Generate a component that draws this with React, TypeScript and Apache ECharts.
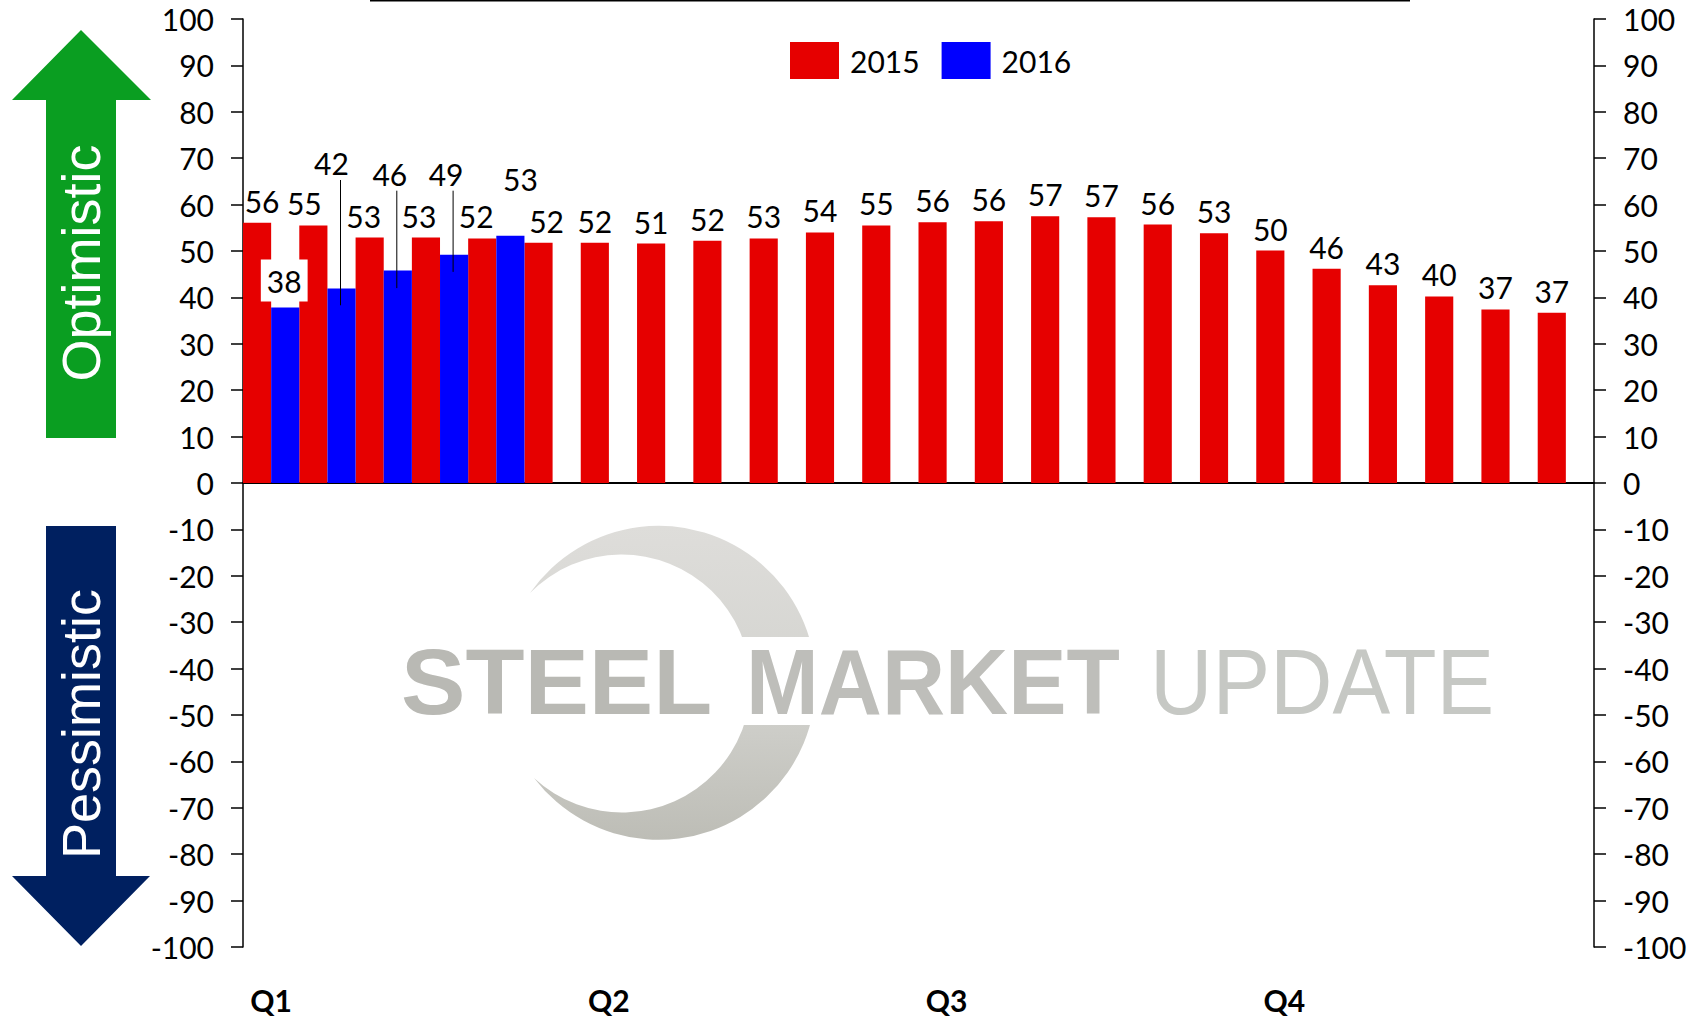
import React, { useEffect, useRef } from "react";
import * as echarts from "echarts";

const categories = ["Q1","","","","","","Q2","","","","","","Q3","","","","","","Q4","","","","",""];
const values2015 = [56.1,55.5,52.9,52.9,52.7,51.8,51.8,51.6,52.2,52.7,54,55.5,56.2,56.4,57.5,57.3,55.7,53.8,50.1,46.2,42.6,40.2,37.4,36.7];
const labels2015 = ["56","55","53","53","52","52","52","51","52","53","54","55","56","56","57","57","56","53","50","46","43","40","37","37"];
const values2016 = [37.8,41.9,45.8,49.2,53.3];
const labels2016 = ["38","42","46","49","53"];
const labelShift2015 = [5,-9,-6,-7,-6,8];
const labelShift2016: [number, number][] = [[-1,-1],[-10,-106],[-8,-76],[-8,-61],[10,-37]];
const leaderTop = [65.3,63,63];
const leaderBottom = [38.3,42,45.5];
const leaderCategory = [1,2,3];
const yTicks = { min: -100, max: 100, interval: 10 };

const font = "Lato";
const fontSize = 30;

echarts.graphic.registerShape(
  "crescent",
  echarts.graphic.extendPath("M530 593 A157 157 0 1 1 534 778 A129 129 0 1 0 530 593 Z", {})
);

function yAxis(position: string) {
  return {
    type: "value",
    position,
    ...yTicks,
    splitLine: { show: false },
    axisLine: { show: true, onZero: false, lineStyle: { color: "#000", width: 1.5 } },
    axisTick: { show: true, length: 12, lineStyle: { color: "#000", width: 1.5 } },
    axisLabel: { margin: 29, color: "#000", fontFamily: font, fontSize },
  };
}

export default function App() {
  const ref = useRef<HTMLDivElement>(null);
  useEffect(() => {
    const chart = echarts.init(ref.current!, null, { renderer: "svg" });
    chart.setOption({
      animation: false,
      backgroundColor: "#fff",
      grid: { left: 243, right: 102, top: 19, bottom: 70, containLabel: false, outerBoundsMode: "none" },
      legend: {
        left: 790,
        top: 42,
        data: ["2015", "2016"],
        icon: "rect",
        itemWidth: 49,
        itemHeight: 37,
        itemGap: 22,
        selectedMode: false,
        padding: 0,
        textStyle: { fontFamily: font, fontSize, color: "#000", padding: [0, 0, 0, 6] },
      },
      xAxis: [
        {
          type: "category",
          data: categories,
          position: "bottom",
          axisTick: { show: false },
          axisLine: { show: false, onZero: false },
          axisLabel: { interval: 0, margin: 38, color: "#000", fontFamily: font, fontWeight: "bold", fontSize: 30 },
        },
        {
          type: "category",
          data: categories,
          position: "bottom",
          axisTick: { show: false },
          axisLabel: { show: false },
          axisLine: { show: true, onZero: true, lineStyle: { color: "#000", width: 2 } },
        },
      ],
      yAxis: [yAxis("left"), yAxis("right")],
      series: [
        {
          name: "2015",
          type: "bar",
          barGap: "0%",
          barCategoryGap: "0%",
          itemStyle: { color: "#E60000" },
          label: { show: true, position: "top", distance: 7, color: "#000", fontFamily: font, fontSize },
          data: values2015.map((v, i) => ({
            value: v,
            label: { formatter: labels2015[i], offset: [labelShift2015[i] ?? 0, 0] },
          })),
        },
        {
          name: "2016",
          type: "bar",
          itemStyle: { color: "#0000FF" },
          label: { show: true, position: "top", distance: 5, color: "#000", fontFamily: font, fontSize },
          data: values2016.map((v, i) => ({
            value: v,
            label: {
              formatter: labels2016[i],
              offset: labelShift2016[i],
              ...(i === 0 ? { backgroundColor: "#fff", padding: [6, 6, 6, 6] } : {}),
            },
          })),
        },
        {
          name: "leaders",
          type: "custom",
          z: 5,
          silent: true,
          encode: { x: 0, y: 1 },
          data: leaderCategory.map((c, i) => [c, leaderTop[i], leaderBottom[i]]),
          renderItem: (_p: any, api: any) => {
            const top = api.coord([api.value(0), api.value(1)]);
            const bottom = api.coord([api.value(0), api.value(2)]);
            const dx = api.size([1, 0])[0] / 4 - 1;
            return {
              type: "line",
              shape: { x1: top[0] + dx, y1: top[1], x2: bottom[0] + dx, y2: bottom[1] },
              style: { stroke: "#000", lineWidth: 1 },
            };
          },
        },
      ],
      graphic: [
        { type: "line", shape: { x1: 370, y1: 0.5, x2: 1410, y2: 0.5 }, style: { stroke: "#000", lineWidth: 2 } },
        {
          type: "polygon",
          shape: { points: [[81, 30], [151, 100], [116, 100], [116, 438], [46, 438], [46, 100], [12, 100]] },
          style: { fill: "#0A9E21" },
        },
        {
          type: "polygon",
          shape: { points: [[46, 526], [116, 526], [116, 876], [150, 876], [81, 946], [12, 876], [46, 876]] },
          style: { fill: "#002060" },
        },
        {
          type: "text",
          x: 81,
          y: 263,
          rotation: Math.PI / 2,
          style: { text: "Optimistic", fill: "#fff", font: "54px 'Liberation Sans'", align: "center", verticalAlign: "middle" },
        },
        {
          type: "text",
          x: 81,
          y: 724,
          rotation: Math.PI / 2,
          style: { text: "Pessimistic", fill: "#fff", font: "54px 'Liberation Sans'", align: "center", verticalAlign: "middle" },
        },
        {
          type: "crescent",
          x: 0,
          y: 0,
          style: {
            fill: new echarts.graphic.LinearGradient(0, 0, 0, 1, [
              { offset: 0, color: "#DEDDDA" },
              { offset: 0.5, color: "#D4D4D0" },
              { offset: 1, color: "#BDBDB6" },
            ]),
          },
        },
        { type: "rect", shape: { x: 500, y: 637, width: 330, height: 88 }, style: { fill: "#fff" } },
        {
          type: "text",
          x: 401,
          y: 682,
          scaleX: 1.05,
          style: { text: "STEEL", fill: "#B9B9B4", font: "bold 92px 'Liberation Sans'", align: "left", verticalAlign: "middle" },
        },
        {
          type: "text",
          x: 746,
          y: 682,
          scaleX: 0.95,
          style: { text: "MARKET", fill: "#BEBEBA", font: "bold 92px 'Liberation Sans'", align: "left", verticalAlign: "middle" },
        },
        {
          type: "text",
          x: 1150,
          y: 682,
          scaleX: 0.94,
          style: { text: "UPDATE", fill: "#C6C8C4", font: "92px 'Liberation Sans'", align: "left", verticalAlign: "middle" },
        },
      ],
    });
    return () => chart.dispose();
  }, []);
  return <div ref={ref} style={{ position: "absolute", left: 0, top: 0, width: 1696, height: 1017 }} />;
}
